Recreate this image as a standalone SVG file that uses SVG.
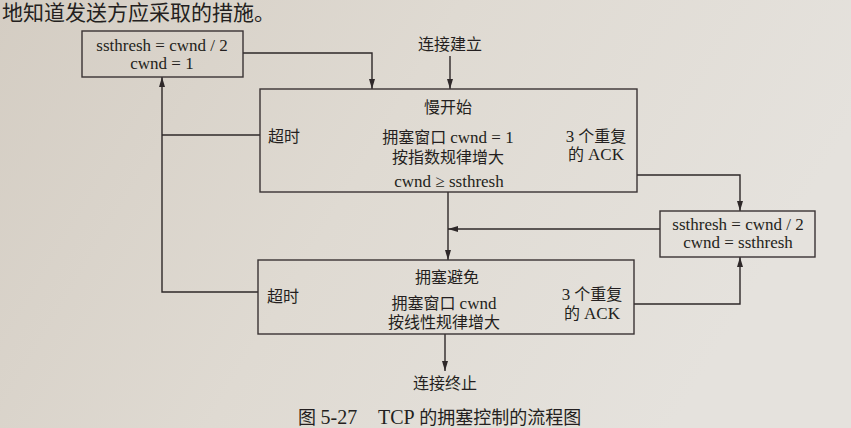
<svg xmlns="http://www.w3.org/2000/svg" width="851" height="428" viewBox="0 0 851 428">
  <defs>
    <linearGradient id="paper" x1="0" y1="0" x2="1" y2="0.3">
      <stop offset="0" stop-color="#d4cdc3"/>
      <stop offset="0.5" stop-color="#dfdad2"/>
      <stop offset="1" stop-color="#e5e2dd"/>
    </linearGradient>
    <marker id="arrow" viewBox="0 0 10 6" refX="10" refY="3" markerWidth="10" markerHeight="6" markerUnits="userSpaceOnUse" orient="auto">
      <path d="M0,0 L10,3 L0,6 Z" fill="#2e2829"/>
    </marker>
  </defs>
  <style>
    .box { fill: none; stroke: #3a3334; stroke-width: 1.4; }
    .wire { fill: none; stroke: #2e2829; stroke-width: 1.4; }
    text { fill: #241f20; font-family: "Liberation Serif", "Noto Sans CJK SC", serif; text-anchor: middle; }
    .lat { font-size: 17px; }
    .cjk { font-size: 16px; }
    .left { text-anchor: start; }
    .cap { font-size: 18px; text-anchor: start; }
    .body { font-size: 21px; text-anchor: start; }
  </style>

  <!-- page background -->
  <rect x="0" y="0" width="851" height="428" fill="url(#paper)"/>

  <!-- tail of the preceding paragraph -->
  <text class="body" x="2" y="20">地知道发送方应采取的措施。</text>

  <!-- connectors -->
  <g id="connectors">
    <path class="wire" d="M450,56 V89" marker-end="url(#arrow)"/>
    <path class="wire" d="M243,53 H372 V89" marker-end="url(#arrow)"/>
    <path class="wire" d="M260,135 H162"/>
    <path class="wire" d="M258,292 H162 V77" marker-end="url(#arrow)"/>
    <path class="wire" d="M637,175 H740 V211" marker-end="url(#arrow)"/>
    <path class="wire" d="M634,304 H740 V257" marker-end="url(#arrow)"/>
    <path class="wire" d="M448,192 V260" marker-end="url(#arrow)"/>
    <path class="wire" d="M660,229 H448" marker-end="url(#arrow)"/>
    <path class="wire" d="M445,334 V371" marker-end="url(#arrow)"/>
  </g>

  <g id="start">
    <text class="cjk" x="450" y="50">连接建立</text>
  </g>

  <g id="reset-timeout">
    <rect class="box" x="82" y="31" width="161" height="46"/>
    <text class="lat" x="162" y="51">ssthresh = cwnd / 2</text>
    <text class="lat" x="162" y="69">cwnd = 1</text>
  </g>

  <g id="slow-start">
    <rect class="box" x="260" y="89" width="377" height="103"/>
    <text class="cjk" x="448" y="113">慢开始</text>
    <text class="cjk left" x="268" y="142">超时</text>
    <text class="cjk" x="448" y="143">拥塞窗口 <tspan class="lat">cwnd = 1</tspan></text>
    <text class="cjk" x="448" y="163">按指数规律增大</text>
    <text class="cjk" x="596" y="142"><tspan class="lat">3</tspan> 个重复</text>
    <text class="cjk" x="596" y="160">的 <tspan class="lat">ACK</tspan></text>
    <text class="lat" x="449" y="187">cwnd ≥ ssthresh</text>
  </g>

  <g id="fast-recovery">
    <rect class="box" x="660" y="211" width="155" height="46"/>
    <text class="lat" x="738" y="230">ssthresh = cwnd / 2</text>
    <text class="lat" x="738" y="248">cwnd = ssthresh</text>
  </g>

  <g id="congestion-avoidance">
    <rect class="box" x="258" y="260" width="376" height="74"/>
    <text class="cjk" x="447" y="283">拥塞避免</text>
    <text class="cjk left" x="267" y="302">超时</text>
    <text class="cjk" x="444" y="309">拥塞窗口 <tspan class="lat">cwnd</tspan></text>
    <text class="cjk" x="444" y="328">按线性规律增大</text>
    <text class="cjk" x="592" y="300"><tspan class="lat">3</tspan> 个重复</text>
    <text class="cjk" x="592" y="319">的 <tspan class="lat">ACK</tspan></text>
  </g>

  <g id="end">
    <text class="cjk" x="445" y="389">连接终止</text>
  </g>

  <!-- figure caption -->
  <text class="cap" x="298" y="424">图 <tspan font-size="20">5-27</tspan></text>
  <text class="cap" x="378" y="424"><tspan font-size="20">TCP</tspan> 的拥塞控制的流程图</text>
</svg>
